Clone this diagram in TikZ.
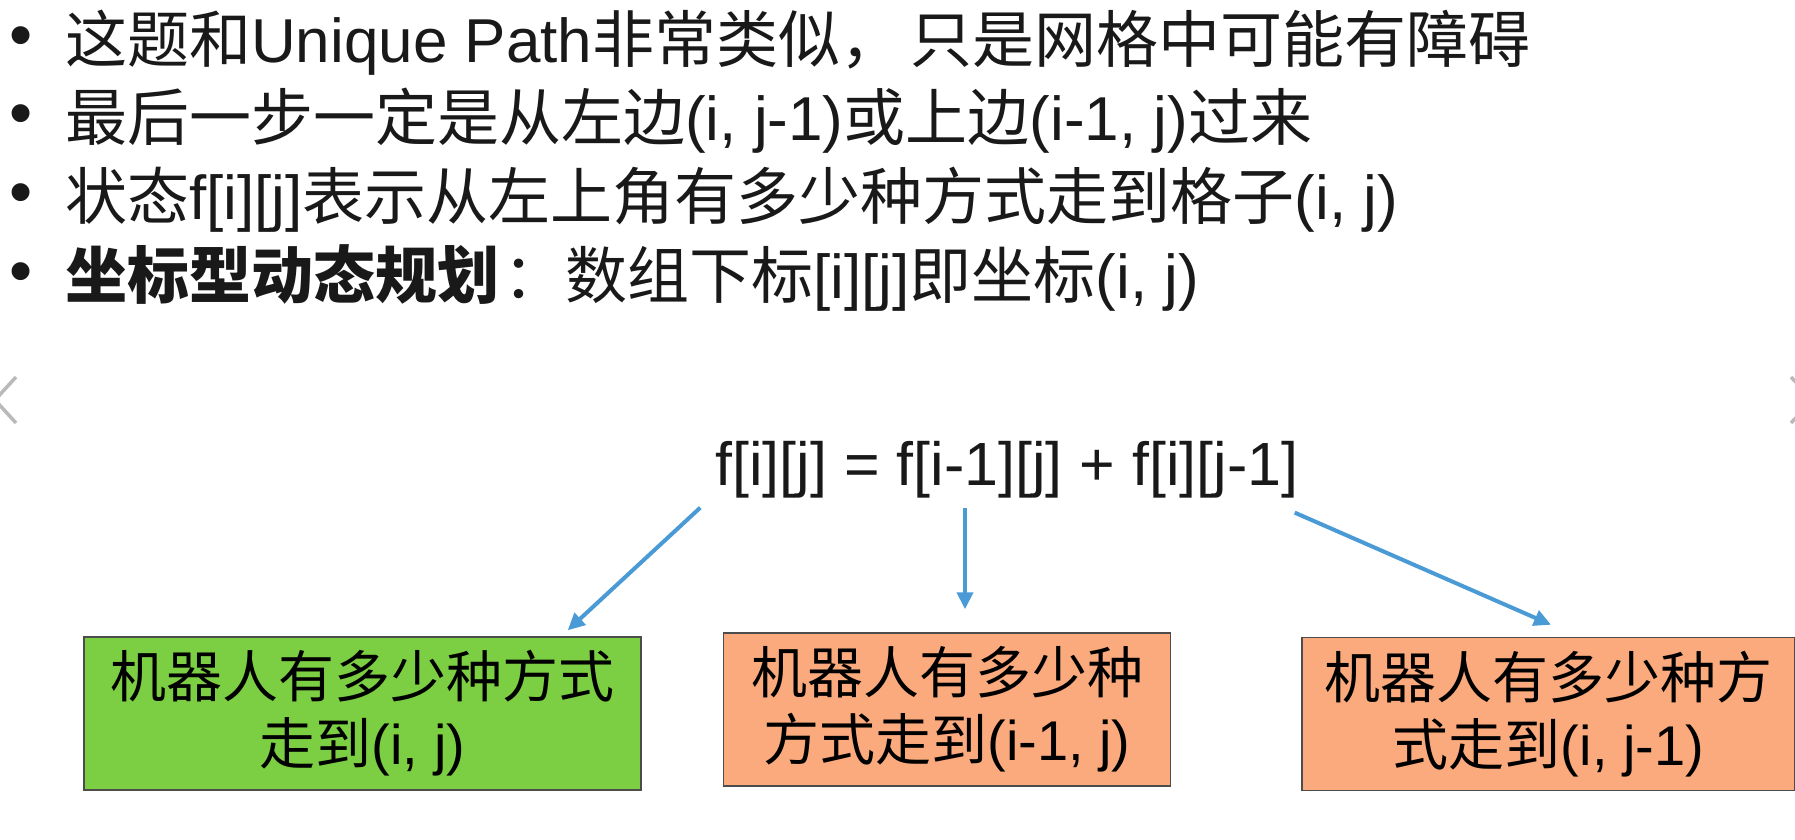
\documentclass[tikz,border=0pt]{standalone}
\usepackage{fontspec}
\setmainfont{Liberation Sans}
\newfontfamily\zhfont{Noto Sans CJK SC}
\newcommand{\zh}[1]{{\zhfont #1}}
\usepackage{xcolor}
\usepackage{tikz}
\usetikzlibrary{arrows.meta, positioning, calc}
\definecolor{arrowblue}{RGB}{74,154,214}
\definecolor{boxgreen}{RGB}{124,206,66}
\definecolor{boxorange}{RGB}{250,170,125}
\definecolor{chevgray}{RGB}{185,185,185}

\begin{document}
\begin{tikzpicture}[
    x=1pt, y=-1pt,
    dotmark/.style={inner sep=0pt, font=\fontsize{66}{66}\selectfont, text=black!90},
    item/.style={anchor=base west, inner sep=0pt, font=\fontsize{62}{62}\selectfont, text=black!90},
    formula/.style={inner sep=0pt, font=\fontsize{61}{61}\selectfont, text=black!90},
    greenbox/.style={rectangle, draw=black!70, line width=1.5pt, fill=boxgreen, minimum width=557pt, minimum height=153pt, align=center, font=\fontsize{56}{67}\selectfont},
    orangebox/.style={rectangle, draw=black!70, line width=1.5pt, fill=boxorange, minimum width=447pt, minimum height=153pt, align=center, font=\fontsize{56}{67}\selectfont},
    link/.style={draw=arrowblue, line width=4pt, -{Triangle[length=17pt, width=16pt]}},
    chevron/.style={draw=chevgray, line width=3.5pt}
]
    \fill[white] (0,0) rectangle (1795,839);
    \useasboundingbox (0,0) rectangle (1795,839);
    \clip (0,0) rectangle (1795,839);

    % bullet list
    \node[dotmark] (b1) at (21,42) {•};
    \node[dotmark] (b2) at (21,120) {•};
    \node[dotmark] (b3) at (21,199) {•};
    \node[dotmark] (b4) at (21,278) {•};
    \node[item] (l1) at (65,62) {\zh{这题和}Unique Path\zh{非常类似，}\hspace{8pt}\zh{只是网格中可能有障碍}};
    \node[item] (l2) at (65,140) {\zh{最后一步一定是从左边}(i, j-1)\zh{或上边}(i-1, j)\zh{过来}};
    \node[item] (l3) at (65,219) {\zh{状态}f[i][j]\zh{表示从左上角有多少种方式走到格子}(i, j)};
    \node[item] (l4) at (65,298) {\zh{\bfseries 坐标型动态规划}\hspace{4pt}\zh{：数组下标}[i][j]\zh{即坐标}(i, j)};

    % page arrows of the viewer
    \draw[chevron] (16,377) -- (-5,400) -- (16,423);
    \draw[chevron] (1791,377) -- (1813,400) -- (1791,423);

    % recurrence
    \node[formula] (eq) at (1007,470) {f[i][j] = f[i-1][j] + f[i][j-1]};

    % the three terms
    \node[greenbox] (green) at (362.5,713.5) {\zh{机器人有多少种方式}\\\zh{走到}(i, j)};
    \node[orangebox, right=81pt of green, yshift=4pt] (mid) {\zh{机器人有多少种}\\\zh{方式走到}(i-1, j)};
    \node[orangebox, minimum width=493pt, right=130pt of mid, yshift=-4.5pt] (rightbox) {\zh{机器人有多少种方}\\\zh{式走到}(i, j-1)};

    % Connectors
    \draw[link] ([shift={(-15,9)}]eq.south west) -- ([shift={(-74,-6)}]green.north east);
    \draw[link] ([shift={(18,9)}]eq.south -| mid.north) -- ([shift={(18,-23)}]mid.north);
    \draw[link] ([shift={(-4,14)}]eq.south east) -- ([shift={(2.5,-12)}]rightbox.north);
\end{tikzpicture}
\end{document}
